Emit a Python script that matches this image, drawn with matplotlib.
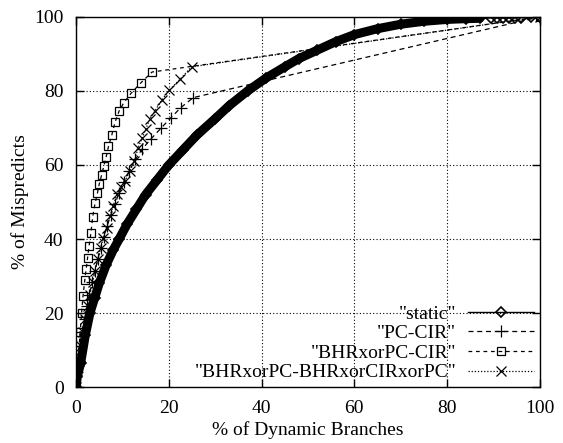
import numpy as np
import matplotlib
matplotlib.use("Agg")
import matplotlib.pyplot as plt

plt.rcParams['font.family'] = ['Liberation Serif', 'DejaVu Serif']
plt.rcParams['font.size'] = 14

# data (x = % of dynamic branches, y = % of mispredicts)
static_x = np.array([0, 0.3, 1, 2, 3, 4, 5, 6.5, 8, 9.3, 11, 13, 15, 17.5, 20, 23, 26, 30, 33, 37,
                     41, 45, 48, 52, 56, 60, 65, 70, 75, 80, 84, 87, 89.5, 90.7, 92, 93.3, 94.6, 96, 98, 100])
static_y = np.array([0, 3, 6.5, 14, 20, 24, 28, 33, 37, 40, 44, 48, 52, 56, 60, 64, 68, 72.5, 76, 80,
                     83.5, 86.5, 88.7, 91, 93.3, 95.2, 96.8, 98, 98.8, 99.3, 99.5, 99.6, 99.7, 99.7,
                     99.7, 99.7, 99.8, 99.8, 99.9, 100])

pccir_x = [0, 0.3, 0.6, 1.0, 1.4, 1.9, 2.4, 2.9, 3.5, 4.1, 4.7, 5.3, 6.0, 6.7, 7.5, 8.4, 9.3,
           10.3, 11.5, 12.8, 14.2, 16.2, 18.3, 20.5, 22.6, 25.3, 100]
pccir_y = [0, 4, 7, 11, 15, 18.5, 22, 25, 28.5, 31.5, 34.5, 37.5, 40.5, 43.5, 46.5, 49.5, 52.5,
           55.5, 58.5, 61.5, 64.2, 67.1, 69.9, 72.8, 75.5, 78.2, 100]

bhr_x = [0, 0.3, 0.6, 0.9, 1.2, 1.5, 1.9, 2.2, 2.5, 2.8, 3.2, 3.6, 4.1, 4.6, 5.0, 5.5, 6.0, 6.5,
         7.0, 7.7, 8.4, 9.3, 10.3, 11.9, 14.0, 16.4, 100]
bhr_y = [0, 5, 10, 15, 20, 24.5, 29, 32, 35, 38, 41.5, 46, 49.6, 52.3, 54.8, 57.2, 59.7, 62.2,
         65, 68, 71.5, 74.6, 76.8, 79.4, 82.2, 85.1, 100]

mix_x = [0, 0.3, 0.6, 1.0, 1.5, 2.0, 2.5, 3.0, 3.6, 4.1, 4.7, 5.3, 5.9, 6.6, 7.3, 8.0, 8.8, 9.7,
         10.6, 11.6, 12.6, 13.4, 14.3, 15.0, 15.9, 17.0, 18.5, 20.1, 22.4, 24.9, 100]
mix_y = [0, 4, 7, 11, 15, 18.5, 22, 25, 28.5, 31.5, 34.5, 37.5, 40.4, 43.1, 46.2, 48.9, 52.1, 54,
         55.7, 58.4, 61.1, 64.7, 67.4, 69.6, 72.3, 74.6, 77.5, 80.2, 83.1, 86.5, 100]

labels = ['"static"', '"PC-CIR"', '"BHRxorPC-CIR"', '"BHRxorPC-BHRxorCIRxorPC"']
ticks = [0, 20, 40, 60, 80, 100]

fig = plt.figure(figsize=(5.63, 4.43), dpi=100)
ax = fig.add_axes([0.135, 0.126, 0.824, 0.836])

# static: dense part drawn as a heavy band, open diamonds on every point
dense = static_x <= 87
ax.plot(static_x[dense], static_y[dense], '-', color='black', lw=6.5, solid_capstyle='round',
        solid_joinstyle='round')
ax.plot(static_x, static_y, '-', color='black', lw=1, marker='D', ms=5.5,
        mfc='none', mec='black', mew=1.2, label=labels[0])
ax.plot(pccir_x, pccir_y, color='black', lw=0.9, ls=(0, (4, 3)), marker='+', ms=9,
        mew=0.9, label=labels[1])
ax.plot(bhr_x, bhr_y, color='black', lw=0.9, ls=(0, (3, 3)), marker='s', ms=6,
        mfc='none', mew=0.9, label=labels[2])
ax.plot(mix_x, mix_y, color='black', lw=0.9, ls=(0, (1, 1.5)), marker='x', ms=7.5,
        mew=0.9, label=labels[3])

ax.set_xlim(0, 100)
ax.set_ylim(0, 100)
ax.set_xticks(ticks)
ax.set_yticks(ticks)
ax.grid(True, color='black', ls=(0, (1, 2)), lw=0.8)
ax.tick_params(direction='in', length=6, width=1, top=True, right=True, pad=9)
for s in ax.spines.values():
    s.set_linewidth(1)

ax.set_xlabel('% of Dynamic Branches', labelpad=3)
ax.set_ylabel('% of Mispredicts', labelpad=4)

handles, labs = ax.get_legend_handles_labels()
ax.legend(handles, labs, loc='lower right', frameon=False, markerfirst=False,
          handlelength=3.4, handletextpad=0.6, labelspacing=0.1, borderaxespad=0.2,
          borderpad=0.1)

fig.savefig('out.png', dpi=100)
